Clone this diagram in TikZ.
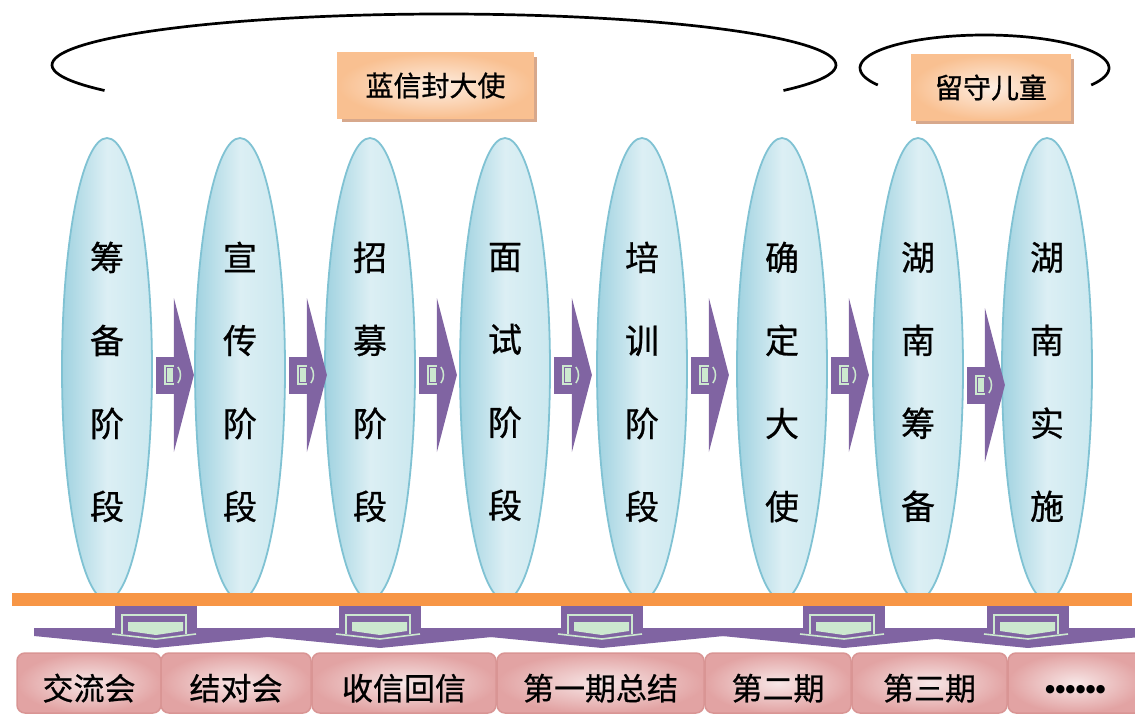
\documentclass[tikz,border=0pt]{standalone}
\usepackage{fontspec}
\newfontfamily\cjk[FakeBold=0.7]{Noto Sans CJK SC}
\newfontfamily\dvs{DejaVu Sans}
\usetikzlibrary{shapes.geometric,shadows,calc}
\definecolor{ellB}{RGB}{128,194,211}
\definecolor{ellL}{RGB}{160,210,224}
\definecolor{ellM}{RGB}{220,239,244}
\definecolor{ellR}{RGB}{203,232,239}
\definecolor{purp}{RGB}{128,100,162}
\definecolor{mint}{RGB}{204,232,207}
\definecolor{barO}{RGB}{247,150,70}
\definecolor{lblB}{RGB}{250,192,144}
\definecolor{lblI}{RGB}{253,238,226}
\definecolor{lblO}{RGB}{249,192,145}
\definecolor{shd}{RGB}{215,168,140}
\definecolor{bxB}{RGB}{217,149,148}
\definecolor{bxI}{RGB}{247,230,230}
\definecolor{bxO}{RGB}{226,163,163}
\tikzset{
  ell/.style={ellipse, draw=ellB, line width=1.8pt, left color=ellL, right color=ellR, middle color=ellM, minimum width=90pt, minimum height=462pt, inner sep=0pt},
  vtext/.style={font=\cjk\fontsize{34}{83}\selectfont, align=center, inner sep=0pt},
  lbl/.style={draw=lblB, line width=1.5pt, inner color=lblI, outer color=lblO, minimum height=65pt, inner sep=0pt, font=\cjk\fontsize{28}{30}\selectfont, drop shadow={shadow xshift=4pt, shadow yshift=-4pt, opacity=1, fill=shd}},
  bbox/.style={rounded corners=8pt, draw=bxB, line width=1.5pt, inner color=bxI, outer color=bxO, minimum height=60pt, inner sep=0pt, text height=34pt, text depth=0pt, font=\cjk\fontsize{31}{33}\selectfont},
  curve/.style={line width=2.7pt, black},
  rarr/.pic={
    \fill[purp] (0,-18) rectangle (19,19);
    \fill[purp] (18,-77) -- (38,0) -- (18,77) -- cycle;
    \fill[mint] (8,-10) rectangle (18,10);
    \draw[purp, line width=1.2pt] (10.5,-7.5) rectangle (18,7.5);
    \draw[mint, line width=1.5pt] (22,-8) .. controls (25.5,-4) and (25.5,4) .. (22,8);
  },
  darr/.pic={
    \fill[purp] (-41,0) rectangle (41,23);
    \fill[purp] (-122,22) -- (122,22) -- (122,30) -- (0,42) -- (-122,30) -- cycle;
    \draw[mint, line width=1.6pt] (-34,28) -- (-34,9) -- (30,9) -- (30,28);
    \draw[mint, line width=1.6pt] (-44,28) -- (0,33) -- (40,28);
    \fill[mint] (-28,16) -- (27,16) -- (27,25) -- (0,29) -- (-28,25) -- cycle;
  }
}
\begin{document}
\begin{tikzpicture}[x=1pt,y=-1pt]
\useasboundingbox (0,0) rectangle (1135,714);
% top curves
\draw[curve] plot[domain=150:390, samples=90, smooth] ({444+392*cos(\x)},{65+51*sin(\x)});
\draw[curve] plot[domain=149:391, samples=60, smooth] ({984.5+124.5*cos(\x)},{68+33*sin(\x)});
% label boxes
\node[lbl, minimum width=195pt] (L1) at (435.5,85.5) {蓝信封大使};
\node[lbl, minimum width=158pt] (L2) at (991,87.5) {留守儿童};
% ellipses
\foreach \n/\x in {1/107,2/240,3/370,4/505,5/642,6/782,7/918,8/1047}{
  \node[ell] (e\n) at (\x,369) {};
}
\node[vtext] (t1) at (107,382) {筹\\备\\阶\\段};
\node[vtext] (t2) at (240,382) {宣\\传\\阶\\段};
\node[vtext] (t3) at (370,382) {招\\募\\阶\\段};
\node[vtext] (t4) at (505,382) {面\\试\\阶\\段};
\node[vtext] (t5) at (642,382) {培\\训\\阶\\段};
\node[vtext] (t6) at (782,382) {确\\定\\大\\使};
\node[vtext] (t7) at (918,382) {湖\\南\\筹\\备};
\node[vtext] (t8) at (1047,382) {湖\\南\\实\\施};
% right arrows between stages
\pic at ($(e1.east)+(3,6)$) {rarr};
\pic at ($(e2.east)+(3,6)$) {rarr};
\pic at ($(e3.east)+(3,6)$) {rarr};
\pic at ($(e4.east)+(3,6)$) {rarr};
\pic at ($(e5.east)+(3,6)$) {rarr};
\pic at ($(e6.east)+(3,6)$) {rarr};
\pic at ($(e7.east)+(3,16)$) {rarr};
% orange bar
\fill[barO] (12,593) rectangle (1132,606);
% down arrows
\foreach \c in {156,380,602,844,1028}{
  \pic at (\c,606) {darr};
}
% bottom boxes
\node[bbox, minimum width=144pt] (b1) at (89,683) {交流会};
\node[bbox, minimum width=150pt] (b2) at (236,683) {结对会};
\node[bbox, minimum width=184pt] (b3) at (404,683) {收信回信};
\node[bbox, minimum width=207pt] (b4) at (600.5,683) {第一期总结};
\node[bbox, minimum width=146pt] (b5) at (778,683) {第二期};
\node[bbox, minimum width=155pt] (b6) at (929.5,683) {第三期};
\node[bbox, minimum width=135pt, text height=18pt, font=\dvs\fontsize{11}{14}\selectfont] (b7) at (1075.5,683) {●\kern0.5pt●\kern0.5pt●\kern0.5pt●\kern0.5pt●\kern0.5pt●};
\end{tikzpicture}
\end{document}
